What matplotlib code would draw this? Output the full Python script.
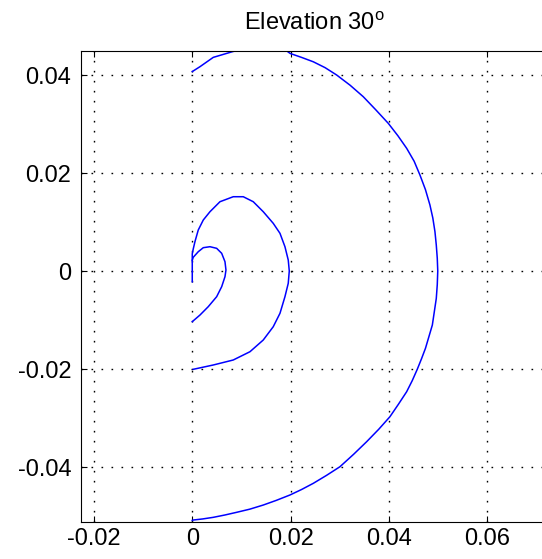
import numpy as np
import matplotlib
matplotlib.use("Agg")
import matplotlib.pyplot as plt

plt.rcParams['font.family'] = ['Liberation Sans', 'DejaVu Sans']
plt.rcParams['mathtext.fontset'] = 'custom'
plt.rcParams['mathtext.rm'] = 'Liberation Sans'

# outer arc (the part above the top is clipped)
outer_x = [0.0, 0.00157, 0.00427, 0.0083, 0.013, 0.018, 0.0199, 0.0222, 0.0246, 0.0270,
           0.02935, 0.0321, 0.03476, 0.0373, 0.03984, 0.0418, 0.04358, 0.0451, 0.04628,
           0.0474, 0.04831, 0.0489, 0.04933, 0.0496, 0.0498, 0.0499, 0.0498, 0.0496,
           0.0488, 0.0481, 0.04740, 0.0466, 0.04573, 0.0447, 0.04358, 0.0419, 0.04018,
           0.0379, 0.03545, 0.0328, 0.03002, 0.0273, 0.0246, 0.0222, 0.01986, 0.0171,
           0.01443, 0.0117, 0.009, 0.0066, 0.00427, 0.0021, 0.0002, 0.0]
outer_y = [0.0407, 0.0417, 0.0436, 0.0448, 0.0458, 0.0458, 0.0444, 0.0436, 0.0427, 0.0415,
           0.0400, 0.0379, 0.03557, 0.0329, 0.03014, 0.0276, 0.02504, 0.0224, 0.01959,
           0.0166, 0.01347, 0.0108, 0.00802, 0.0053, 0.0026, 0.0, -0.0028, -0.0056,
           -0.01102, -0.0134, -0.01578, -0.0179, -0.02007, -0.0224, -0.02463, -0.0272,
           -0.02973, -0.0323, -0.03483, -0.0374, -0.03994, -0.0417, -0.04333, -0.0446,
           -0.04571, -0.0468, -0.04776, -0.0486, -0.04925, -0.0498, -0.05027, -0.0506,
           -0.05082, -0.0509]

# middle loop
mid_x = [0.0, 0.0, 0.0002, 0.00055, 0.00122, 0.00224, 0.0036, 0.00563, 0.00833,
         0.01037, 0.0124, 0.01443, 0.01646, 0.01783, 0.01884, 0.01951, 0.01972,
         0.01951, 0.01884, 0.01783, 0.01646, 0.01443, 0.01173, 0.00833, 0.00427,
         0.0002]
mid_y = [-0.0022, 0.0035, 0.0045, 0.006, 0.00837, 0.01041, 0.0121, 0.01414, 0.01516,
         0.01516, 0.01414, 0.0121, 0.00973, 0.00769, 0.00496, 0.00224, 0.0,
         -0.00251, -0.00524, -0.00863, -0.01137, -0.01408, -0.01647, -0.01816, -0.01918,
         -0.02006]

# inner loop
inner_x = [0.0, 0.00157, 0.00325, 0.00496, 0.00598, 0.00665, 0.00685, 0.00665,
           0.00598, 0.00496, 0.0036, 0.00224, 0.00122, 0.0002, 0.0]
inner_y = [-0.01034, -0.00898, -0.00728, -0.00524, -0.0032, -0.00116, 0.0002, 0.0019,
           0.00361, 0.00463, 0.00496, 0.00476, 0.00394, 0.0028, 0.0022]

xticks = [-0.02, 0, 0.02, 0.04, 0.06]
xtick_labels = ['-0.02', '0', '0.02', '0.04', '0.06']
yticks = [-0.04, -0.02, 0, 0.02, 0.04]
ytick_labels = ['-0.04', '-0.02', '0', '0.02', '0.04']

fig = plt.figure(figsize=(5.42, 5.59), dpi=100)
# axes run a little past the right edge, as in the cropped original
ax = fig.add_axes([0.1494, 0.0662, 0.8616, 0.8431])

for xs, ys in [(outer_x, outer_y), (mid_x, mid_y), (inner_x, inner_y)]:
    ax.plot(xs, ys, color='#0000ff', lw=1.1)

ax.set_xlim(-0.02262, 0.0723)
ax.set_ylim(-0.05122, 0.04496)
ax.set_xticks(xticks)
ax.set_xticklabels(xtick_labels)
ax.set_yticks(yticks)
ax.set_yticklabels(ytick_labels)

ax.grid(True, color='black', linestyle=(0, (1.2, 6.0)), linewidth=1.0)
ax.tick_params(direction='in', length=4, width=0.8, labelsize=17,
               top=True, right=True, colors='black')
ax.tick_params(axis='x', pad=4.5)
ax.tick_params(axis='y', pad=7)
for s in ax.spines.values():
    s.set_linewidth(0.8)
    s.set_color('black')

ax.set_title('Elevation 30$^{\\mathrm{o}}$', fontsize=17, pad=15)

fig.savefig('out.png', dpi=100)
